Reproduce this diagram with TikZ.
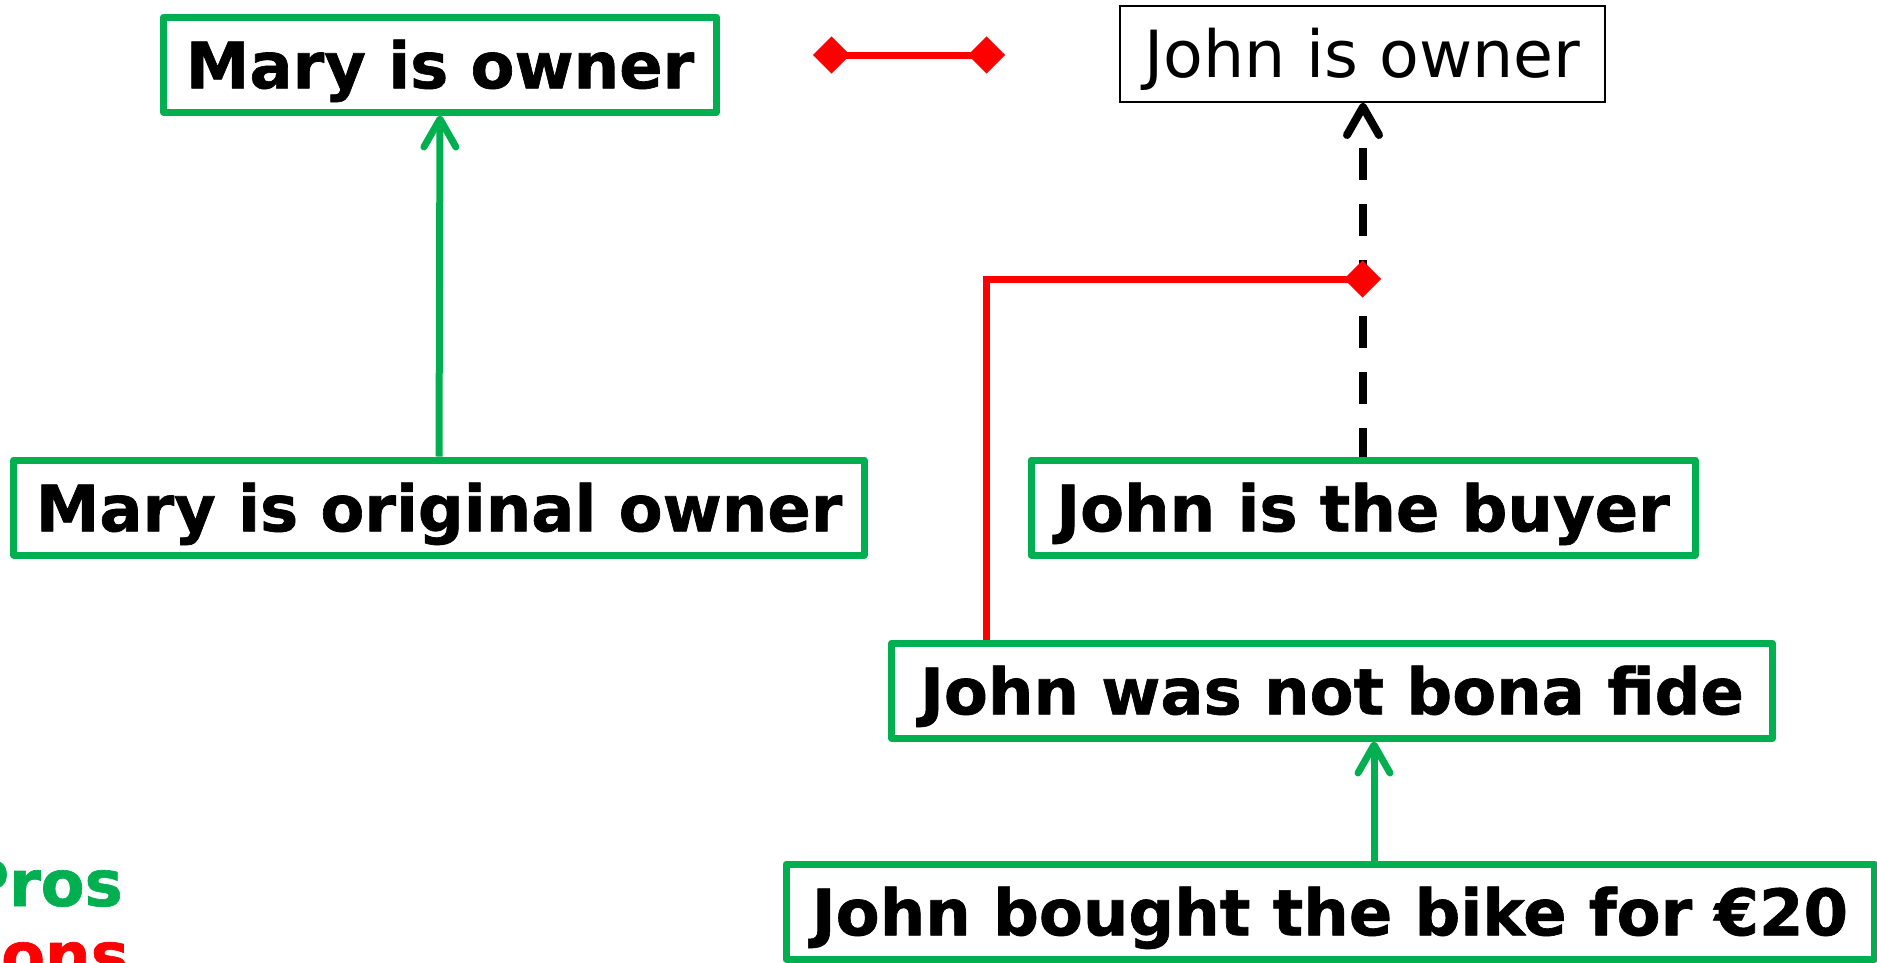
\documentclass[tikz,border=0pt]{standalone}
\usepackage{fontspec}
\setmainfont[BoldFeatures={FakeBold=1}]{DejaVu Sans}
\usetikzlibrary{arrows.meta}
\definecolor{argreen}{HTML}{00B050}
\definecolor{argred}{HTML}{FF0000}
\begin{document}
\begin{tikzpicture}[x=1bp,y=-1bp,
  claim/.style={rectangle, draw=argreen, line width=7bp, line join=round,
    fill=white, inner sep=0pt, text height=47.5bp, text depth=0pt,
    font=\fontsize{64bp}{76bp}\selectfont\bfseries},
  plainclaim/.style={rectangle, draw=black, line width=2bp, fill=white,
    inner sep=0pt, text height=47.4bp, text depth=0pt,
    font=\fontsize{65bp}{78bp}\selectfont},
  support/.style={draw=argreen, line width=7bp,
    -{Straight Barb[length=28bp,width=32bp,round]}},
  inference/.style={draw=black, line width=8bp,
    dash pattern=on 28.5bp off 24bp on 32bp off 24bp on 32bp off 24bp
      on 32bp off 24bp on 32bp off 24bp on 32bp off 300bp,
    -{Straight Barb[length=28bp,width=32bp,round]}},
  attack/.style={draw=argred, line width=7bp, line join=miter},
  legend/.style={anchor=base west, inner sep=0pt,
    font=\fontsize{64bp}{76bp}\selectfont\bfseries}
]
\useasboundingbox (0,0) rectangle (1877,962);

% claims
\node[claim, minimum width=553bp, minimum height=95bp] (mo) at (440,64.5) {Mary is owner};
\node[plainclaim, minimum width=485bp, minimum height=96bp] (jo) at (1362.5,54) {John is owner};
\node[claim, minimum width=850bp, minimum height=95bp] (mor) at (439,507.5) {Mary is original owner};
\node[claim, minimum width=664bp, minimum height=95bp] (buyer) at (1363,507.5) {John is the buyer};
\node[claim, minimum width=881bp, minimum height=95bp] (bf) at (1332,690.5) {John was not bona fide};
\node[claim, minimum width=1088bp, minimum height=95bp] (bike) at (1330,911.5) {John bought the bike for €20};

% legend
\node[legend, text=argreen] (pros) at (-38,906) {Pros};
\node[legend, text=argred] (cons) at (-46,978) {Cons};

% reference points for connectors
\coordinate (rebutL) at (813,55);
\coordinate (rebutR) at (1005,55);
\coordinate (redx) at (986,0);
\coordinate (hit) at (1381,279);
\coordinate (ax) at (1374,0);

% supports
\draw[support] (mor.north) -- (mo.south);
\draw[support] (bike.north -| ax) -- (bf.south -| ax);

% defeasible inference
\draw[inference] (buyer.north) -- (buyer.north |- jo.south);

% attacks
\draw[attack, {Diamond[length=37bp,width=37bp,line width=0.1bp]}-{Diamond[length=37bp,width=37bp,line width=0.1bp]}] (rebutL) -- (rebutR);
\draw[attack, -{Diamond[length=37bp,width=37bp,line width=0.1bp]}] (bf.north -| redx) |- (hit);
\end{tikzpicture}
\end{document}
